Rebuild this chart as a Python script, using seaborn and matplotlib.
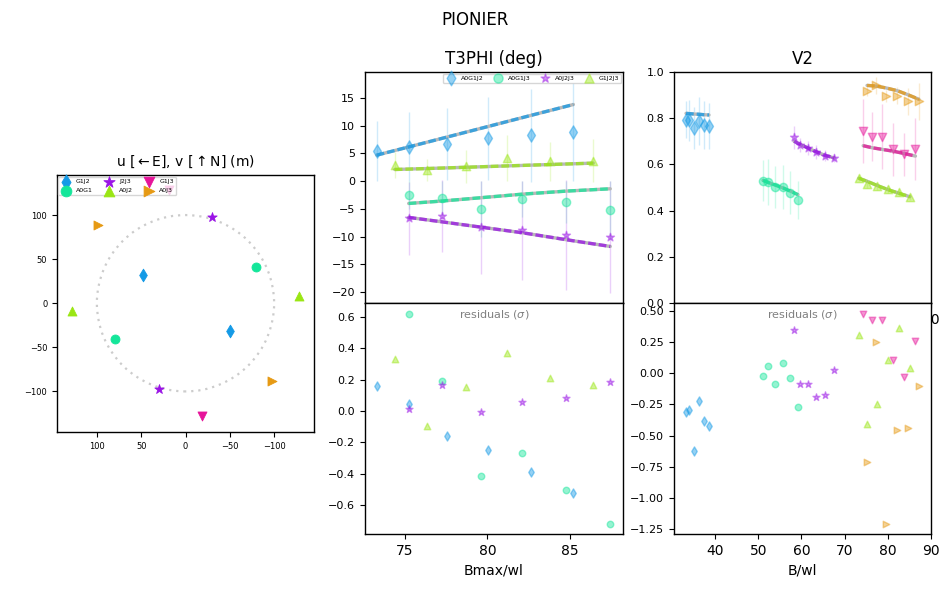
import matplotlib
matplotlib.use("Agg")
import matplotlib.pyplot as plt
import seaborn as sns

BLUE, GREEN, PURPLE = "#149AE6", "#14E69A", "#9A14E6"
LIME, PINK, ORANGE = "#9AE614", "#E6149A", "#E69A14"

# --- u,v plane
uv_labels = ["G1J2", "A0G1", "J2J3", "A0J2", "G1J3", "A0J3"]
uv_markers = ["d", "o", "*", "^", "v", ">"]
uv_colors = [BLUE, GREEN, PURPLE, LIME, PINK, ORANGE]
uv_u = [[48.5, -50.0], [-79.8, 79.8], [-30.0, 30.0], [-128.5, 128.5], [-18.7, 18.7], [98.3, -97.5]]
uv_v = [[31.5, -32.0], [40.8, -40.8], [97.4, -97.4], [8.7, -9.0], [-128.3, 128.3], [88.3, -88.3]]

# --- T3PHI
t3_labels = ["A0G1J2", "A0G1J3", "A0J2J3", "G1J2J3"]
t3_markers = ["d", "o", "*", "^"]
t3_colors = [BLUE, GREEN, PURPLE, LIME]
t3_x = [[73.31, 75.24, 77.54, 80.01, 82.61, 85.2],
        [75.24, 77.23, 79.59, 82.12, 84.78, 87.43],
        [75.24, 77.23, 79.59, 82.12, 84.78, 87.43],
        [74.4, 76.33, 78.68, 81.21, 83.81, 86.4]]
t3_y = [[5.47, 6.25, 6.67, 7.76, 8.30, 8.90],
        [-2.53, -3.07, -5.05, -3.25, -3.73, -5.23],
        [-6.73, -6.37, -8.3, -8.9, -9.74, -10.1],
        [2.89, 1.98, 2.65, 4.15, 3.55, 3.67]]
t3_err = [[5.47, 6.2, 6.5, 7.5, 8.4, 8.9],
          [2.53, 3.1, 5.05, 3.25, 3.75, 5.2],
          [6.6, 6.5, 8.4, 9.0, 9.9, 10.1],
          [2.3, 2.0, 3.0, 4.15, 3.6, 3.9]]
t3_model = [[4.69, 6.17, 7.94, 9.84, 11.85, 13.83],
            [-4.03, -3.6, -3.0, -2.35, -1.8, -1.38],
            [-6.55, -7.34, -8.3, -9.32, -10.58, -11.79],
            [2.1, 2.27, 2.5, 2.75, 3.0, 3.25]]
t3_res = [[0.16, 0.047, -0.157, -0.249, -0.389, -0.523],
          [0.619, 0.191, -0.415, -0.268, -0.504, -0.721],
          [0.015, 0.168, -0.004, 0.06, 0.085, 0.187],
          [0.33, -0.098, 0.151, 0.368, 0.209, 0.164]]

# --- V2
v2_markers = uv_markers
v2_colors = uv_colors
v2_x = [[33.29, 33.9, 35.14, 36.3, 37.45, 38.6],
        [51.1, 52.27, 53.9, 55.76, 57.36, 59.2],
        [58.3, 59.7, 61.5, 63.4, 65.5, 67.6],
        [73.3, 75.2, 77.5, 80.0, 82.6, 85.1],
        [74.3, 76.4, 78.7, 81.3, 83.8, 86.4],
        [75.2, 77.3, 79.6, 82.2, 84.6, 87.2]]
v2_y = [[0.794, 0.791, 0.758, 0.789, 0.772, 0.766],
        [0.53, 0.525, 0.501, 0.501, 0.478, 0.447],
        [0.718, 0.685, 0.671, 0.655, 0.638, 0.629],
        [0.541, 0.515, 0.506, 0.492, 0.48, 0.459],
        [0.746, 0.72, 0.72, 0.665, 0.644, 0.668],
        [0.919, 0.942, 0.896, 0.898, 0.874, 0.874]]
v2_err = [[0.081, 0.088, 0.092, 0.104, 0.104, 0.1],
          [0.087, 0.099, 0.09, 0.096, 0.092, 0.083],
          [0.05, 0.03, 0.032, 0.03, 0.024, 0.018],
          [0.015, 0.015, 0.015, 0.015, 0.015, 0.015],
          [0.139, 0.107, 0.14, 0.114, 0.093, 0.135],
          [0.025, 0.036, 0.025, 0.037, 0.058, 0.08]]
v2_model = [[0.821, 0.82, 0.818, 0.817, 0.815, 0.814],
            [0.531, 0.522, 0.511, 0.498, 0.485, 0.469],
            [0.70, 0.687, 0.671, 0.655, 0.639, 0.628],
            [0.54, 0.527, 0.509, 0.491, 0.475, 0.46],
            [0.681, 0.672, 0.665, 0.657, 0.647, 0.636],
            [0.942, 0.939, 0.931, 0.919, 0.902, 0.882]]
v2_res = [[-0.314, -0.295, -0.625, -0.223, -0.383, -0.424],
          [-0.021, 0.059, -0.086, 0.083, -0.038, -0.271],
          [0.351, -0.083, -0.083, -0.188, -0.172, 0.029],
          [0.306, -0.41, -0.249, 0.105, 0.362, 0.04],
          [0.48, 0.432, 0.432, 0.11, -0.027, 0.263],
          [-0.713, 0.252, -1.212, -0.456, -0.44, -0.102]]

t3_yticks = [-20, -15, -10, -5, 0, 5, 10, 15]
t3_res_yticks = [-0.6, -0.4, -0.2, 0.0, 0.2, 0.4, 0.6]
t3_xticks = [75, 80, 85]
v2_yticks = [0.0, 0.2, 0.4, 0.6, 0.8, 1.0]
v2_res_yticks = [-1.25, -1.0, -0.75, -0.5, -0.25, 0.0, 0.25, 0.5]
v2_xticks = [40, 50, 60, 70, 80, 90]
uv_ticks = [-100, -50, 0, 50, 100]

sns.set_theme(style="ticks", rc={"axes.linewidth": 1.0, "font.size": 10,
                                  "xtick.labelsize": 10, "ytick.labelsize": 8,
                                  "xtick.major.size": 3.5, "ytick.major.size": 3.5,
                                  "xtick.major.width": 0.8, "ytick.major.width": 0.8,
                                  "axes.labelsize": 10, "axes.titlesize": 12,
                                  "text.color": "black", "axes.labelcolor": "black",
                                  "xtick.color": "black", "ytick.color": "black",
                                  "axes.edgecolor": "black"})
plt.rcParams["font.family"] = ["DejaVu Sans"]

W, H = 950, 600
fig = plt.figure(figsize=(W / 100, H / 100), dpi=100)


def px_axes(x0, y0, x1, y1):
    return fig.add_axes([x0 / W, 1 - y1 / H, (x1 - x0) / W, (y1 - y0) / H])


def points(ax, x, y, marker, color, size, label=None, alpha=0.45):
    sns.scatterplot(x=x, y=y, marker=marker, color=color, s=size, alpha=alpha,
                    edgecolor=color, linewidth=1.0, ax=ax, label=label, legend=False, zorder=4)


def data_panel(ax, xs, ys, errs, models, colors, markers, labels=None):
    for i, (x, y, e, m, c, mk) in enumerate(zip(xs, ys, errs, models, colors, markers)):
        ax.errorbar(x, y, yerr=e, fmt="none", ecolor=c, elinewidth=1.0, alpha=0.2, zorder=2)
        sns.lineplot(x=x, y=m, color="0.72", lw=2.4, ax=ax, legend=False, errorbar=None, zorder=3)
        sns.lineplot(x=x, y=m, color=c, lw=2.4, alpha=0.75, ls=(0, (2.3, 0.9)), ax=ax,
                     legend=False, errorbar=None, zorder=3)
        points(ax, x, y, mk, c, 46 if mk == "d" else 36, labels[i] if labels else None)


def res_panel(ax, xs, res, colors, markers):
    for x, y, c, mk in zip(xs, res, colors, markers):
        points(ax, x, y, mk, c, 22 if mk != "*" else 28)
    ax.text(0.5, 0.95, r"residuals ($\sigma$)", transform=ax.transAxes, ha="center", va="center",
            fontsize=8, color="0.5")


# left: u,v plane
ax0 = px_axes(57, 174.5, 314, 432)
ax0.add_patch(plt.Circle((0, 0), 100, fill=False, ec="0.8", lw=1.6, ls=(0, (1, 2.2)), zorder=1))
for u, v, lab, mk, c in zip(uv_u, uv_v, uv_labels, uv_markers, uv_colors):
    sns.scatterplot(x=u, y=v, marker=mk, color=c, s=42 if mk != "*" else 50, edgecolor=c,
                    linewidth=0.6, ax=ax0, label=lab, legend=False, zorder=3)
ax0.set_xlim(145, -145)
ax0.set_ylim(-146, 146)
ax0.set_xticks(uv_ticks)
ax0.set_yticks(uv_ticks)
ax0.tick_params(labelsize=6)
ax0.set_title(r"u [$\leftarrow$E], v [$\uparrow$N] (m)", fontsize=10)
ax0.legend(loc="upper left", bbox_to_anchor=(0.003, 0.99), ncol=3, fontsize=4.5, borderaxespad=0,
           markerscale=1.2, handletextpad=0.6, columnspacing=1.6, labelspacing=0.6, borderpad=0.3)

# middle: T3PHI
ax1 = px_axes(365, 72, 623, 303)
data_panel(ax1, t3_x, t3_y, t3_err, t3_model, t3_colors, t3_markers, t3_labels)
ax1.set_xlim(72.6, 88.2)
ax1.set_ylim(-22, 19.7)
ax1.set_yticks(t3_yticks)
ax1.set_xticks(t3_xticks)
ax1.set_title("T3PHI (deg)", fontsize=12)
ax1.legend(loc="upper right", ncol=4, fontsize=4.5, borderaxespad=0.3, handletextpad=0.6,
           columnspacing=1.25, borderpad=0.3, markerscale=1.1)

ax2 = px_axes(365, 303, 623, 534)
res_panel(ax2, t3_x, t3_res, t3_colors, t3_markers)
ax2.set_xlim(72.6, 88.2)
ax2.set_ylim(-0.785, 0.689)
ax2.set_yticks(t3_res_yticks)
ax2.set_xticks(t3_xticks)
ax2.set_xlabel("Bmax/wl", fontsize=10)

# right: V2
ax3 = px_axes(674, 72, 931, 303)
data_panel(ax3, v2_x, v2_y, v2_err, v2_model, v2_colors, v2_markers)
ax3.set_xlim(30.5, 90)
ax3.set_ylim(0, 1)
ax3.set_yticks(v2_yticks)
ax3.set_xticks(v2_xticks)
ax3.set_title("V2", fontsize=12)

ax4 = px_axes(674, 303, 931, 534)
res_panel(ax4, v2_x, v2_res, v2_colors, v2_markers)
ax4.set_xlim(30.5, 90)
ax4.set_ylim(-1.292, 0.566)
ax4.set_yticks(v2_res_yticks)
ax4.set_xticks(v2_xticks)
ax4.set_xlabel("B/wl", fontsize=10)

fig.suptitle("PIONIER", x=0.5, y=1 - 20 / H, va="center", fontsize=12)
fig.savefig("out.png", dpi=100)
